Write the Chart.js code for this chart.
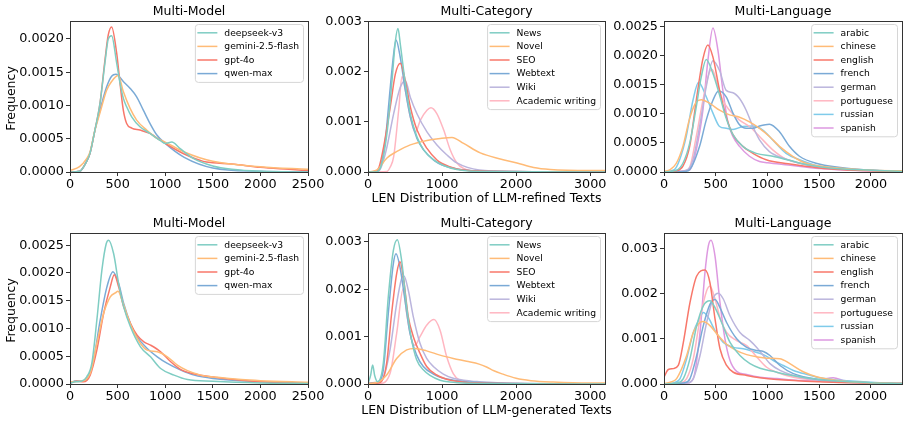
<!DOCTYPE html>
<html>
<head>
<meta charset="utf-8">
<script src="https://cdn.jsdelivr.net/npm/chart.js@4.4.1/dist/chart.umd.min.js"></script>
<style>
  body { margin: 0; background: #fff; }
  #wrap { position: relative; width: 909px; height: 425px; overflow: hidden; }
  canvas { position: absolute; }
</style>
</head>
<body>
<div id="wrap">
  <canvas id="c1"></canvas>
  <canvas id="c2"></canvas>
  <canvas id="c3"></canvas>
  <canvas id="c4"></canvas>
  <canvas id="c5"></canvas>
  <canvas id="c6"></canvas>
</div>
<script>
// ---- data: [length, density] ----
var modelNames = ['deepseek-v3', 'gemini-2.5-flash', 'gpt-4o', 'qwen-max'];
var categoryNames = ['News', 'Novel', 'SEO', 'Webtext', 'Wiki', 'Academic writing'];
var languageNames = ['arabic', 'chinese', 'english', 'french', 'german', 'portuguese', 'russian', 'spanish'];

// tick labels
var xTicksModel = [0, 500, 1000, 1500, 2000, 2500];
var xTicksCategory = [0, 1000, 2000, 3000];
var xTicksLanguage = [0, 500, 1000, 1500, 2000];
var yTicksHalf = [0, 0.0005, 0.001, 0.0015, 0.002, 0.0025];
var yTicksMilli = [0, 0.001, 0.002, 0.003];

// LLM-refined, multi-model
var refDeepseek = [[0,0],[100,0.00001],[175,0.00016],[210,0.00028],[262,0.00063],[315,0.00103],[367,0.00164],[402,0.00200],[437,0.00205],[490,0.00164],[525,0.00134],[560,0.00111],[595,0.00098],[648,0.00083],[735,0.00068],[840,0.00058],[950,0.00047],[1000,0.00043],[1070,0.00045],[1150,0.00036],[1300,0.00020],[1500,0.00009],[1700,0.00004],[2000,0.00001],[2500,0]];
var refGemini = [[0,0.00002],[100,0.00008],[175,0.00020],[210,0.00030],[262,0.00063],[315,0.00089],[385,0.00123],[437,0.00136],[507,0.00145],[560,0.00121],[630,0.00096],[700,0.00078],[805,0.00063],[910,0.00051],[1000,0.00045],[1200,0.00030],[1500,0.00016],[2000,0.00008],[2500,0.00004]];
var refGpt = [[0,0],[100,0.00001],[175,0.00016],[210,0.00028],[262,0.00063],[315,0.00103],[367,0.00168],[402,0.00206],[437,0.00218],[490,0.00179],[525,0.00134],[560,0.00093],[595,0.00073],[648,0.00066],[735,0.00063],[840,0.00058],[945,0.00048],[1000,0.00043],[1200,0.00027],[1400,0.00016],[1500,0.00014],[1700,0.00012],[2000,0.00007],[2300,0.00004],[2500,0.00002]];
var refQwen = [[0,0],[100,0.00001],[175,0.00016],[210,0.00028],[262,0.00063],[315,0.00093],[385,0.00128],[437,0.00144],[483,0.00147],[560,0.00136],[630,0.00126],[700,0.00113],[770,0.00093],[840,0.00073],[910,0.00056],[1000,0.00043],[1200,0.00022],[1500,0.00006],[2000,0.00001],[2500,0]];

// LLM-refined, multi-category
var refNews = [[0,0],[100,0],[166,0.00008],[256,0.00077],[324,0.00182],[369,0.00260],[405,0.00286],[436,0.00255],[504,0.00176],[571,0.00116],[661,0.00070],[751,0.00044],[886,0.00024],[1021,0.00013],[1200,0.00005],[1500,0.00001],[3200,0]];
var refNovel = [[0,0],[121,0.00004],[256,0.00028],[391,0.00041],[571,0.00054],[796,0.00063],[976,0.00067],[1134,0.00069],[1291,0.00057],[1516,0.00038],[1786,0.00026],[2011,0.00018],[2236,0.00009],[2460,0.00005],[3000,0.00003],[3200,0.00003]];
var refSeo = [[0,0],[100,0.00001],[150,0.00010],[211,0.00050],[301,0.00130],[369,0.00195],[436,0.00217],[504,0.00182],[571,0.00130],[661,0.00084],[796,0.00047],[931,0.00024],[1000,0.00017],[1200,0.00006],[1500,0.00002],[3200,0]];
var refWebtext = [[0,0],[100,0.00001],[166,0.00010],[234,0.00064],[301,0.00169],[346,0.00235],[378,0.00263],[436,0.00228],[504,0.00163],[571,0.00110],[661,0.00067],[751,0.00044],[900,0.00022],[1000,0.00014],[1200,0.00006],[1500,0.00002],[3200,0]];
var refWiki = [[0,0],[150,0.00003],[211,0.00024],[256,0.00050],[346,0.00116],[436,0.00169],[504,0.00182],[571,0.00149],[661,0.00116],[796,0.00080],[931,0.00054],[1066,0.00034],[1201,0.00018],[1500,0.00004],[2000,0.00001],[3200,0]];
var refAcademic = [[0,0],[256,0.00001],[300,0.00010],[346,0.00030],[414,0.00123],[459,0.00190],[504,0.00163],[571,0.00110],[639,0.00079],[706,0.00103],[796,0.00123],[850,0.00128],[931,0.00116],[1021,0.00084],[1111,0.00044],[1201,0.00018],[1291,0.00007],[1500,0.00001],[3200,0]];

// LLM-refined, multi-language
var refArabic = [[0,0],[119,0.00003],[183,0.00015],[248,0.00049],[312,0.00112],[360,0.00163],[408,0.00193],[473,0.00169],[537,0.00132],[601,0.00092],[666,0.00064],[762,0.00044],[891,0.00032],[1051,0.00027],[1212,0.00020],[1373,0.00013],[1600,0.00007],[2000,0.00003],[2300,0.00001]];
var refChinese = [[0,0.00001],[60,0.00004],[119,0.00015],[183,0.00044],[248,0.00092],[312,0.00120],[360,0.00124],[440,0.00118],[537,0.00106],[633,0.00098],[730,0.00094],[826,0.00086],[923,0.00075],[1019,0.00061],[1116,0.00044],[1244,0.00027],[1373,0.00015],[1600,0.00008],[2000,0.00003],[2300,0.00002]];
var refEnglish = [[0,0],[120,0.00002],[183,0.00010],[248,0.00044],[312,0.00123],[376,0.00194],[424,0.00218],[473,0.00197],[537,0.00140],[601,0.00095],[666,0.00064],[762,0.00044],[859,0.00032],[987,0.00021],[1200,0.00014],[1500,0.00007],[2000,0.00002],[2300,0.00001]];
var refFrench = [[0,0],[200,0.00001],[248,0.00004],[344,0.00044],[408,0.00089],[473,0.00123],[527,0.00139],[601,0.00129],[666,0.00101],[730,0.00081],[794,0.00075],[859,0.00075],[923,0.00079],[1019,0.00082],[1116,0.00069],[1212,0.00044],[1309,0.00027],[1469,0.00015],[2000,0.00003],[2300,0.00001]];
var refGerman = [[0,0],[220,0.00003],[280,0.00021],[344,0.00078],[408,0.00146],[473,0.00191],[537,0.00174],[601,0.00140],[666,0.00136],[730,0.00126],[794,0.00106],[859,0.00078],[923,0.00055],[1019,0.00035],[1148,0.00024],[1500,0.00008],[2000,0.00003],[2300,0.00001]];
var refPortuguese = [[0,0],[200,0.00002],[248,0.00008],[312,0.00061],[376,0.00123],[440,0.00172],[466,0.00176],[505,0.00157],[569,0.00123],[633,0.00106],[730,0.00089],[826,0.00078],[923,0.00061],[1051,0.00038],[1180,0.00022],[1500,0.00010],[2000,0.00003],[2300,0.00001]];
var refRussian = [[0,0],[100,0.00004],[151,0.00021],[215,0.00061],[280,0.00123],[334,0.00154],[408,0.00129],[473,0.00101],[537,0.00078],[601,0.00075],[666,0.00073],[762,0.00078],[859,0.00079],[955,0.00072],[1051,0.00055],[1180,0.00032],[1309,0.00021],[1500,0.00010],[2000,0.00003],[2300,0.00001]];
var refSpanish = [[0,0],[250,0.00004],[312,0.00038],[376,0.00106],[424,0.00191],[473,0.00247],[521,0.00209],[569,0.00140],[617,0.00086],[666,0.00061],[730,0.00044],[826,0.00027],[923,0.00018],[1000,0.00016],[1200,0.00012],[1500,0.00006],[2000,0.00002],[2300,0.00001]];

// LLM-generated, multi-model
var genDeepseek = [[0,0.00001],[53,0.00004],[120,0.00005],[176,0.00013],[229,0.00037],[282,0.00115],[335,0.00205],[381,0.00253],[405,0.00259],[458,0.00235],[511,0.00181],[564,0.00139],[635,0.00103],[740,0.00067],[846,0.00049],[952,0.00028],[1093,0.00016],[1234,0.00008],[1500,0.00005],[2000,0.00002],[2500,0.00001]];
var genGemini = [[0,0.00004],[106,0.00005],[212,0.00019],[282,0.00073],[353,0.00127],[423,0.00157],[476,0.00164],[504,0.00167],[547,0.00151],[600,0.00124],[670,0.00094],[740,0.00073],[811,0.00061],[917,0.00058],[1023,0.00049],[1128,0.00034],[1234,0.00024],[1375,0.00016],[1551,0.00012],[1800,0.00008],[2000,0.00006],[2500,0.00003]];
var genGpt = [[0,0.00002],[70,0.00005],[141,0.00004],[212,0.00016],[282,0.00061],[353,0.00127],[423,0.00175],[465,0.00197],[511,0.00175],[564,0.00139],[635,0.00109],[705,0.00088],[776,0.00076],[846,0.00070],[952,0.00058],[1058,0.00040],[1164,0.00026],[1305,0.00018],[1481,0.00013],[2000,0.00004],[2500,0.00002]];
var genQwen = [[0,0.00002],[70,0.00006],[141,0.00005],[176,0.00008],[247,0.00043],[317,0.00115],[388,0.00175],[451,0.00202],[511,0.00181],[564,0.00145],[635,0.00109],[705,0.00085],[811,0.00064],[917,0.00049],[1023,0.00037],[1164,0.00025],[1305,0.00016],[1500,0.00010],[2000,0.00004],[2500,0.00001]];

// LLM-generated, multi-category
var genNews = [[0,0.00001],[35,0.00018],[63,0.00040],[90,0.00018],[130,0.00005],[207,0.00044],[274,0.00184],[342,0.00282],[396,0.00305],[454,0.00261],[522,0.00163],[589,0.00093],[657,0.00051],[747,0.00030],[837,0.00018],[972,0.00008],[1107,0.00004],[1500,0.00001],[3200,0]];
var genNovel = [[0,0.00001],[117,0.00003],[252,0.00019],[387,0.00054],[522,0.00072],[634,0.00075],[792,0.00070],[972,0.00061],[1151,0.00054],[1332,0.00048],[1500,0.00042],[1600,0.00036],[1700,0.00028],[1800,0.00022],[2000,0.00012],[2200,0.00007],[2500,0.00004],[3000,0.00002],[3200,0.00002]];
var genSeo = [[0,0.00001],[162,0.00003],[252,0.00044],[319,0.00149],[387,0.00233],[432,0.00258],[477,0.00226],[544,0.00142],[612,0.00100],[702,0.00065],[792,0.00037],[927,0.00019],[1062,0.00010],[1242,0.00005],[1500,0.00002],[3200,0]];
var genWebtext = [[0,0.00001],[94,0.00003],[150,0.00005],[207,0.00030],[274,0.00149],[342,0.00254],[378,0.00275],[432,0.00247],[499,0.00177],[567,0.00107],[657,0.00061],[747,0.00037],[882,0.00021],[1017,0.00012],[1197,0.00007],[1500,0.00003],[3200,0]];
var genWiki = [[0,0.00001],[150,0.00004],[207,0.00012],[297,0.00072],[387,0.00170],[454,0.00223],[486,0.00228],[544,0.00198],[612,0.00142],[702,0.00086],[792,0.00054],[882,0.00037],[1017,0.00021],[1151,0.00012],[1400,0.00006],[1500,0.00005],[2000,0.00001],[3200,0]];
var genAcademic = [[0,0],[162,0.00001],[297,0.00022],[387,0.00107],[477,0.00202],[522,0.00149],[589,0.00093],[634,0.00082],[702,0.00100],[792,0.00124],[891,0.00136],[972,0.00114],[1062,0.00058],[1151,0.00022],[1242,0.00007],[1400,0.00002],[3200,0]];

// LLM-generated, multi-language
var genArabic = [[0,0],[120,0.00002],[187,0.00012],[251,0.00056],[316,0.00129],[380,0.00173],[444,0.00184],[493,0.00169],[557,0.00136],[638,0.00092],[734,0.00063],[831,0.00045],[928,0.00035],[1056,0.00028],[1185,0.00021],[1500,0.00010],[2000,0.00003],[2300,0.00001]];
var genChinese = [[0,0.00001],[60,0.00004],[122,0.00012],[219,0.00063],[283,0.00114],[348,0.00136],[380,0.00138],[444,0.00129],[525,0.00107],[605,0.00088],[702,0.00074],[799,0.00065],[896,0.00060],[992,0.00057],[1119,0.00056],[1216,0.00045],[1345,0.00027],[1474,0.00016],[1635,0.00009],[1797,0.00005],[2000,0.00003],[2300,0.00001]];
var genEnglish = [[0,0.00015],[42,0.00032],[90,0.00034],[138,0.00041],[187,0.00092],[251,0.00180],[316,0.00239],[396,0.00252],[444,0.00224],[493,0.00144],[541,0.00078],[605,0.00041],[670,0.00026],[799,0.00019],[928,0.00014],[1089,0.00010],[1500,0.00005],[2000,0.00002],[2300,0.00001]];
var genFrench = [[0,0],[200,0.00003],[251,0.00012],[316,0.00063],[380,0.00129],[444,0.00176],[493,0.00187],[541,0.00169],[605,0.00136],[702,0.00100],[799,0.00081],[896,0.00074],[960,0.00072],[1024,0.00063],[1121,0.00041],[1250,0.00023],[1500,0.00010],[2000,0.00003],[2300,0.00001]];
var genGerman = [[0,0],[220,0.00002],[283,0.00012],[348,0.00063],[412,0.00136],[477,0.00191],[525,0.00201],[573,0.00188],[638,0.00151],[734,0.00114],[831,0.00096],[896,0.00081],[960,0.00063],[1024,0.00045],[1121,0.00030],[1250,0.00019],[1500,0.00008],[2000,0.00002],[2300,0.00001]];
var genPortuguese = [[0,0],[160,0.00003],[219,0.00012],[283,0.00056],[348,0.00144],[412,0.00206],[444,0.00216],[493,0.00188],[541,0.00147],[605,0.00114],[702,0.00096],[799,0.00085],[896,0.00060],[992,0.00037],[1089,0.00026],[1250,0.00015],[1500,0.00008],[2000,0.00002],[2300,0.00001]];
var genRussian = [[0,0],[100,0.00003],[155,0.00012],[219,0.00056],[283,0.00114],[348,0.00147],[380,0.00158],[428,0.00147],[493,0.00118],[573,0.00092],[670,0.00081],[766,0.00078],[863,0.00072],[960,0.00065],[1056,0.00052],[1153,0.00041],[1250,0.00030],[1400,0.00020],[1500,0.00014],[2000,0.00004],[2300,0.00001]];
var genSpanish = [[0,0],[220,0.00002],[283,0.00012],[348,0.00114],[396,0.00247],[428,0.00305],[454,0.00318],[493,0.00283],[541,0.00180],[589,0.00100],[638,0.00052],[702,0.00028],[799,0.00021],[928,0.00015],[1089,0.00012],[1300,0.00008],[1500,0.00009],[1635,0.00014],[1750,0.00007],[2000,0.00002],[2300,0.00001]];

var colors = ['#7fcdc3', '#ffbb77', '#f8776a', '#7aaad6', '#bbb5dd', '#ffb6c1', '#7fcbea', '#dd99e0'];

var FONT = "'DejaVu Sans', sans-serif";

// frame, titles, axis labels and legend box (matplotlib look)
var panelDeco = {
  id: 'panelDeco',
  afterDraw: function (chart) {
    var o = chart.options.plugins.panelDeco;
    var ctx = chart.ctx, a = chart.chartArea;
    ctx.save();
    ctx.strokeStyle = '#333';
    ctx.lineWidth = 1;
    ctx.strokeRect(Math.round(a.left) + 0.5, Math.round(a.top) + 0.5, Math.round(a.right - a.left), Math.round(a.bottom - a.top));

    ctx.fillStyle = '#000';
    ctx.textAlign = 'center';
    ctx.textBaseline = 'middle';
    ctx.font = '12.5px ' + FONT;
    ctx.fillText(o.title, (a.left + a.right) / 2, a.top - 9.5);
    if (o.xlabel) ctx.fillText(o.xlabel, (a.left + a.right) / 2, a.bottom + 27);
    if (o.ylabel) {
      ctx.save();
      ctx.translate(12, (a.top + a.bottom) / 2 + 2);
      ctx.rotate(-Math.PI / 2);
      ctx.fillText(o.ylabel, 0, 0);
      ctx.restore();
    }

    // legend
    var ds = chart.data.datasets;
    ctx.font = '9.2px ' + FONT;
    var tw = 0;
    ds.forEach(function (d) { tw = Math.max(tw, ctx.measureText(d.label).width); });
    var rowH = 13.6;
    var bw = 2.5 + 20 + 7 + tw + 4;
    var bh = ds.length * rowH + 3.5;
    var bx = a.right - 5 - bw, by = a.top + 3;
    ctx.beginPath();
    ctx.roundRect(bx + 0.5, by + 0.5, bw, bh, 3);
    ctx.fillStyle = 'rgba(255,255,255,0.8)';
    ctx.fill();
    ctx.strokeStyle = '#d6d6d6';
    ctx.lineWidth = 1;
    ctx.stroke();
    ctx.textAlign = 'left';
    ctx.textBaseline = 'middle';
    ds.forEach(function (d, i) {
      var yy = by + 2 + rowH * (i + 0.5);
      ctx.beginPath();
      ctx.moveTo(bx + 2.5, yy);
      ctx.lineTo(bx + 22.5, yy);
      ctx.strokeStyle = d.borderColor;
      ctx.lineWidth = 1.5;
      ctx.stroke();
      ctx.fillStyle = '#000';
      ctx.fillText(d.label, bx + 29.5, yy + 0.5);
    });
    ctx.restore();
  }
};

function makePanel(id, pos, names, series, xr, yr, text) {
  var cv = document.getElementById(id);
  cv.width = pos.w; cv.height = pos.h;
  cv.style.left = pos.left + 'px'; cv.style.top = pos.top + 'px';
  cv.style.width = pos.w + 'px'; cv.style.height = pos.h + 'px';

  var datasets = series.map(function (s, i) {
    return {
      label: names[i],
      data: s.map(function (p) { return { x: p[0], y: p[1] }; }),
      borderColor: colors[i],
      borderWidth: 1.5,
      pointRadius: 0,
      fill: false,
      cubicInterpolationMode: 'monotone'
    };
  });

  var tickFont = { family: FONT, size: 12.8 };
  var yTicks = yr.ticks.filter(function (v) { return v <= yr.max; });
  return new Chart(cv, {
    type: 'line',
    data: { datasets: datasets },
    plugins: [panelDeco],
    options: {
      responsive: false,
      animation: false,
      devicePixelRatio: 1,
      layout: { padding: { top: 21, right: pos.padR, bottom: 0, left: 0 } },
      plugins: {
        legend: { display: false },
        tooltip: { enabled: false },
        panelDeco: text
      },
      scales: {
        x: {
          type: 'linear', min: 0, max: xr.max,
          ticks: { autoSkip: false, maxRotation: 0, padding: 1, color: '#000', font: tickFont,
                   callback: function (v) { return String(v); } },
          afterBuildTicks: function (s) { s.ticks = xr.ticks.map(function (v) { return { value: v }; }); },
          grid: { drawOnChartArea: false, drawTicks: true, tickLength: 4, color: '#333' },
          border: { display: false },
          afterFit: function (s) { s.height = pos.h - 21 - 151; }
        },
        y: {
          type: 'linear', min: 0, max: yr.max,
          ticks: { autoSkip: false, padding: 2, color: '#000', font: tickFont,
                   callback: function (v) { return v.toFixed(yr.dec); } },
          afterBuildTicks: function (s) { s.ticks = yTicks.map(function (v) { return { value: v }; }); },
          grid: { drawOnChartArea: false, drawTicks: true, tickLength: 4, color: '#333' },
          border: { display: false },
          afterFit: function (s) { s.width = pos.yw; }
        }
      }
    }
  });
}

var col1 = { left: 0, w: 338, yw: 70, padR: 30 };
var col2 = { left: 310, w: 325, yw: 58, padR: 30 };
var col3 = { left: 608, w: 301, yw: 56, padR: 7 };
function at(col, top, h) { return { left: col.left, w: col.w, yw: col.yw, padR: col.padR, top: top, h: h }; }

makePanel('c1', at(col1, 0, 212), modelNames, [refDeepseek, refGemini, refGpt, refQwen],
  { max: 2500, ticks: xTicksModel }, { max: 0.00227, ticks: yTicksHalf, dec: 4 },
  { title: 'Multi-Model', ylabel: 'Frequency' });
makePanel('c2', at(col2, 0, 212), categoryNames, [refNews, refNovel, refSeo, refWebtext, refWiki, refAcademic],
  { max: 3200, ticks: xTicksCategory }, { max: 0.00301, ticks: yTicksMilli, dec: 3 },
  { title: 'Multi-Category', xlabel: 'LEN Distribution of LLM-refined Texts' });
makePanel('c3', at(col3, 0, 212), languageNames, [refArabic, refChinese, refEnglish, refFrench, refGerman, refPortuguese, refRussian, refSpanish],
  { max: 2300, ticks: xTicksLanguage }, { max: 0.00259, ticks: yTicksHalf, dec: 4 },
  { title: 'Multi-Language' });
makePanel('c4', at(col1, 212, 213), modelNames, [genDeepseek, genGemini, genGpt, genQwen],
  { max: 2500, ticks: xTicksModel }, { max: 0.00272, ticks: yTicksHalf, dec: 4 },
  { title: 'Multi-Model', ylabel: 'Frequency' });
makePanel('c5', at(col2, 212, 213), categoryNames, [genNews, genNovel, genSeo, genWebtext, genWiki, genAcademic],
  { max: 3200, ticks: xTicksCategory }, { max: 0.00319, ticks: yTicksMilli, dec: 3 },
  { title: 'Multi-Category', xlabel: 'LEN Distribution of LLM-generated Texts' });
makePanel('c6', at(col3, 212, 213), languageNames, [genArabic, genChinese, genEnglish, genFrench, genGerman, genPortuguese, genRussian, genSpanish],
  { max: 2300, ticks: xTicksLanguage }, { max: 0.00334, ticks: yTicksMilli, dec: 3 },
  { title: 'Multi-Language' });
</script>
</body>
</html>
